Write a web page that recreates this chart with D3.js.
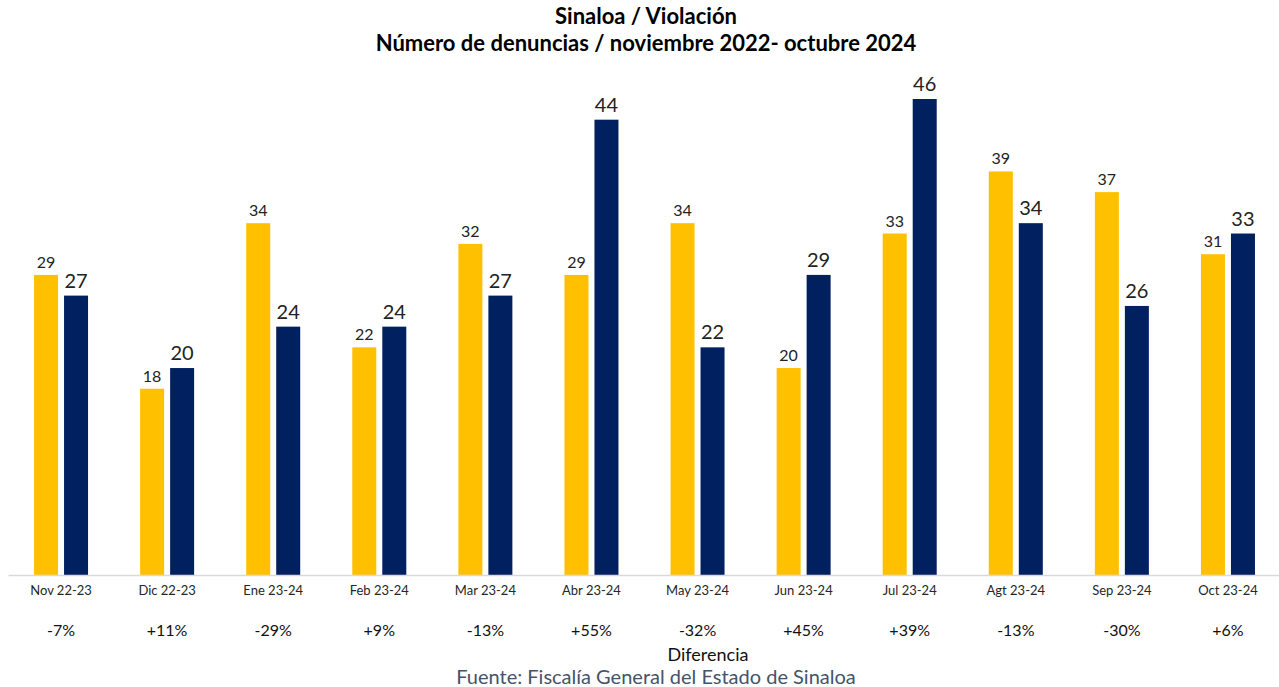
<!DOCTYPE html>
<html>
<head>
<meta charset="utf-8">
<script src="https://cdn.jsdelivr.net/npm/d3@7"></script>
<style>
  html, body { margin: 0; padding: 0; background: #fff; }
  svg { display: block; font-family: Lato, "Open Sans", sans-serif; }
</style>
</head>
<body>
<svg id="chart" width="1279" height="687"></svg>
<script>
// Monthly complaints: previous year (yellow) vs current year (navy)
const categories = ["Nov 22-23", "Dic 22-23", "Ene 23-24", "Feb 23-24", "Mar 23-24", "Abr 23-24",
                    "May 23-24", "Jun 23-24", "Jul 23-24", "Agt 23-24", "Sep 23-24", "Oct 23-24"];
const previousYear = [29, 18, 34, 22, 32, 29, 34, 20, 33, 39, 37, 31];
const currentYear  = [27, 20, 24, 24, 27, 44, 22, 29, 46, 34, 26, 33];
const differences  = ["-7%", "+11%", "-29%", "+9%", "-13%", "+55%", "-32%", "+45%", "+39%", "-13%", "-30%", "+6%"];
const seriesKeys = ["prev", "curr"];
const seriesColors = ["#FFC000", "#002060"];

const svg = d3.select("#chart");
const plotLeft = 8, plotRight = 1281;
const baseline = 575;
const plotTop = 99;

const x = d3.scaleBand().domain(categories).range([plotLeft, plotRight]).paddingInner(0).paddingOuter(0);
const inner = d3.scaleBand().domain(seriesKeys).range([x.bandwidth() / 2 - 27, x.bandwidth() / 2 + 27]).paddingInner(0.2);
const y = d3.scaleLinear().domain([0, 46]).range([baseline, plotTop]);

const rows = categories.map((c, i) => ({ cat: c, prev: previousYear[i], curr: currentYear[i], diff: differences[i] }));

// Title
svg.append("text").attr("x", 646).attr("y", 24).attr("text-anchor", "middle")
  .attr("font-size", 22).attr("font-weight", 700).attr("fill", "#000").text("Sinaloa / Violación");
svg.append("text").attr("x", 646).attr("y", 51).attr("text-anchor", "middle")
  .attr("font-size", 22).attr("font-weight", 700).attr("fill", "#000")
  .text("Número de denuncias / noviembre 2022- octubre 2024");

// Bars
const groups = svg.append("g").selectAll("g").data(rows).join("g")
  .attr("transform", d => `translate(${x(d.cat)},0)`);

groups.selectAll("rect").data(d => seriesKeys.map((k, j) => ({ key: k, value: d[k], j })))
  .join("rect")
  .attr("x", d => inner(d.key))
  .attr("width", inner.bandwidth())
  .attr("y", d => y(d.value))
  .attr("height", d => baseline - y(d.value))
  .attr("fill", d => seriesColors[d.j]);

// Value labels
groups.selectAll("text.val").data(d => seriesKeys.map((k, j) => ({ key: k, value: d[k], j })))
  .join("text").attr("class", "val")
  .attr("x", d => inner(d.key) + inner.bandwidth() / 2)
  .attr("y", d => y(d.value) - (d.j === 0 ? 7 : 8))
  .attr("text-anchor", "middle")
  .attr("font-size", d => d.j === 0 ? 16 : 20)
  .attr("fill", "#222")
  .text(d => d.value);

// Baseline axis
const xAxis = d3.axisBottom(x).tickSize(0).tickPadding(11);
const axisG = svg.append("g").attr("transform", `translate(0,${baseline})`).call(xAxis);
axisG.select(".domain").attr("stroke", "#d9d9d9").attr("stroke-width", 1.5);
axisG.selectAll("text").attr("font-size", 13).attr("fill", "#262626").attr("font-family", "Lato, sans-serif");

// Difference row
svg.append("g").selectAll("text").data(rows).join("text")
  .attr("x", d => x(d.cat) + x.bandwidth() / 2)
  .attr("y", 636)
  .attr("text-anchor", "middle")
  .attr("font-size", 16)
  .attr("fill", "#111")
  .text(d => d.diff);

svg.append("text").attr("x", 708).attr("y", 661).attr("text-anchor", "middle")
  .attr("font-size", 18).attr("fill", "#111").text("Diferencia");

svg.append("text").attr("x", 656).attr("y", 684).attr("text-anchor", "middle")
  .attr("font-size", 20).attr("fill", "#44546A").text("Fuente: Fiscalía General del Estado de Sinaloa");
</script>
</body>
</html>
